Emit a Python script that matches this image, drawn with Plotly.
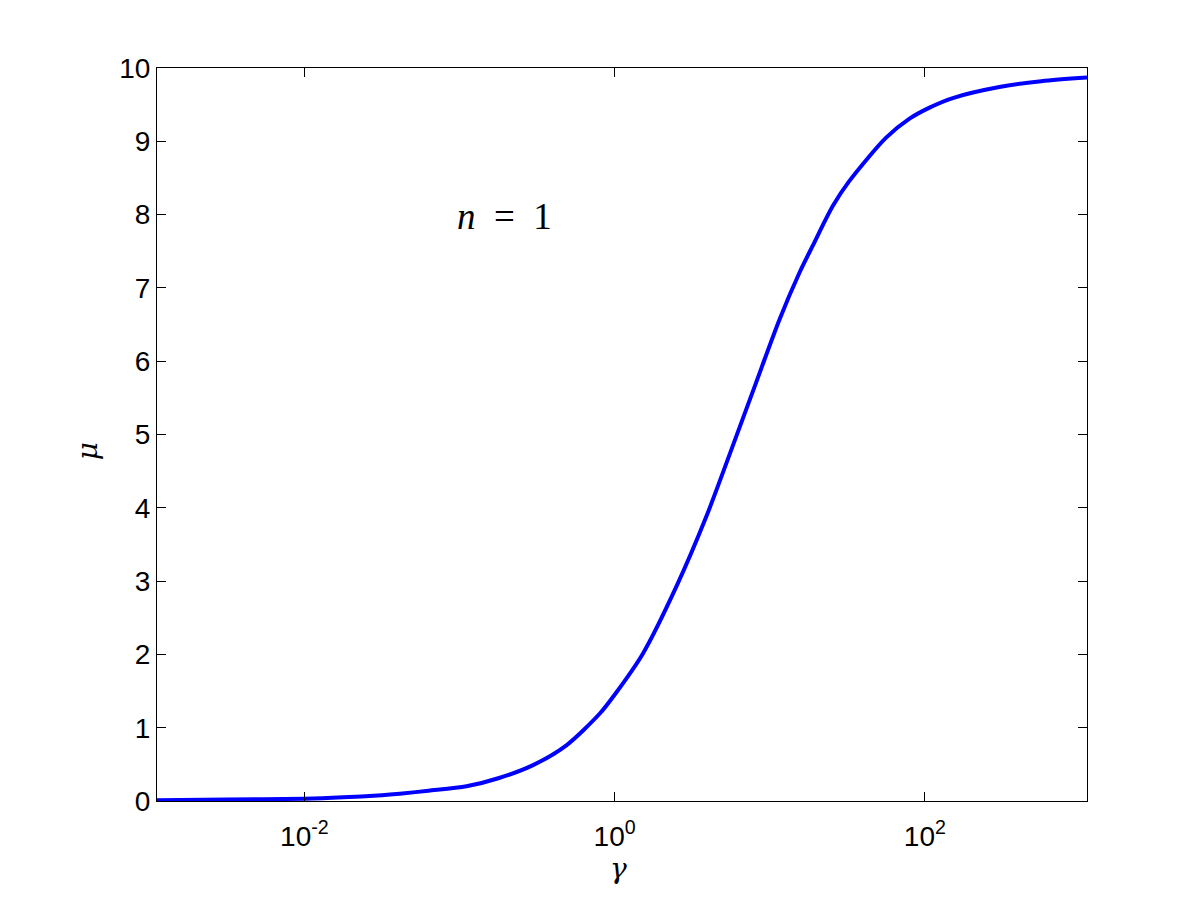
import numpy as np
import plotly.graph_objects as go

# values (log10 of gamma, mu)
log_gamma = [-2.95, -2.5, -2.0, -1.75, -1.5, -1.385, -1.2, -0.955, -0.75, -0.526,
             -0.311, -0.097, 0.0, 0.182, 0.397, 0.591, 0.752, 0.9, 1.063, 1.192,
             1.278, 1.407, 1.51, 1.75, 1.901, 2.03, 2.18, 2.48, 2.75, 3.045]
mu = [0.01, 0.02, 0.03, 0.05, 0.08, 0.10, 0.14, 0.20, 0.31, 0.49,
      0.76, 1.19, 1.45, 2.01, 2.92, 3.88, 4.79, 5.64, 6.57, 7.21,
      7.58, 8.12, 8.45, 9.05, 9.31, 9.46, 9.59, 9.74, 9.82, 9.87]
gamma = [10 ** v for v in log_gamma]

x_tickvals = [1e-2, 1e0, 1e2]
x_ticktext = ["10<sup>-2</sup>", "10<sup>0</sup>", "10<sup>2</sup>"]
y_tickvals = list(range(0, 11))

fig = go.Figure()
fig.add_trace(go.Scatter(x=gamma, y=mu, mode="lines",
                         line=dict(color="#0000ff", width=4, shape="spline", smoothing=0.8),
                         showlegend=False, hoverinfo="skip"))

axis_common = dict(showgrid=False, zeroline=False, showline=True, linecolor="black",
                   linewidth=1, mirror="allticks", ticks="inside", ticklen=9,
                   tickcolor="black", tickwidth=1,
                   tickfont=dict(family="Liberation Sans, Arial, sans-serif", size=28, color="black"))

fig.update_xaxes(type="log", range=[-2.95, 3.045], tickvals=x_tickvals, ticktext=x_ticktext,
                 ticklabelstandoff=10, **axis_common)
fig.update_yaxes(range=[0, 10], tickvals=y_tickvals, **axis_common)

fig.add_annotation(text="<i>γ</i>", xref="paper", yref="paper", x=0.4965, y=-0.092,
                   showarrow=False, xanchor="center", yanchor="middle",
                   font=dict(family="DejaVu Serif, serif", size=28, color="black"))
fig.add_annotation(text="<i>μ</i>", xref="paper", yref="paper", x=-0.074, y=0.4775,
                   showarrow=False, xanchor="center", yanchor="middle", textangle=-90,
                   font=dict(family="DejaVu Serif, serif", size=28, color="black"))
fig.add_annotation(text="<i>n</i>  =  1", xref="paper", yref="paper", x=0.374, y=0.797,
                   showarrow=False, xanchor="center", yanchor="middle",
                   font=dict(family="Liberation Serif, Times New Roman, serif", size=37, color="black"))

fig.update_layout(width=1201, height=900, paper_bgcolor="white", plot_bgcolor="white",
                  margin=dict(l=149, r=122, t=60, b=107))

fig.write_html("out.html")
